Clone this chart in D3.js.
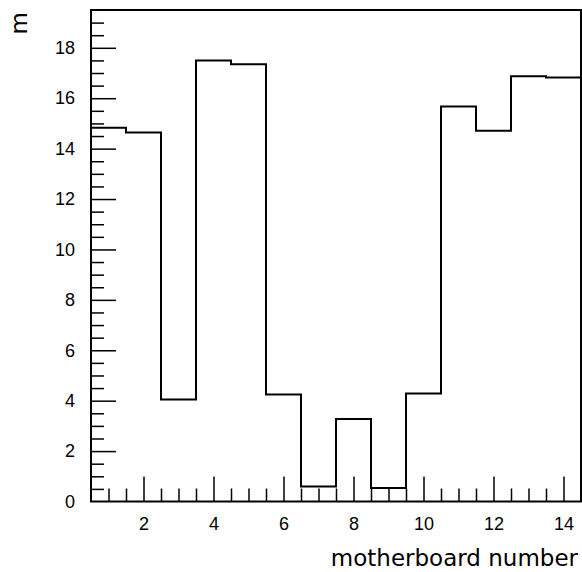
<!DOCTYPE html>
<html><head><meta charset="utf-8">
<script src="https://cdn.jsdelivr.net/npm/d3@7"></script>
<style>html,body{margin:0;padding:0;background:#fff;}svg{display:block;}</style>
</head><body>
<svg id="c" width="582" height="572"></svg>
<script>
const bins = [1,2,3,4,5,6,7,8,9,10,11,12,13,14];
const values = [14.83,14.64,4.05,17.5,17.35,4.25,0.6,3.27,0.54,4.28,15.67,14.71,16.87,16.82];
const xTickLabels = [2,4,6,8,10,12,14];
const yTickLabels = [0,2,4,6,8,10,12,14,16,18];
const xTitle = "motherboard number";
const yTitle = "m";

const svg = d3.select("#c");
const L = 91, R = 581, T = 10, B = 501.5;
const x = d3.scaleLinear().domain([0.5,14.5]).range([L,R]);
const y = d3.scaleLinear().domain([0,19.5]).range([B,T]);

// histogram step path
const pts = [[0.5,0]];
bins.forEach((b,i)=>{ pts.push([b-0.5,values[i]]); pts.push([b+0.5,values[i]]); });
pts.push([14.5,0]);
svg.append("path")
  .attr("d", d3.line().x(d=>x(d[0])).y(d=>y(d[1]))(pts))
  .attr("fill","none").attr("stroke","#000").attr("stroke-width",2);

// x ticks (inside, pointing up)
const xMinor = d3.range(1,14.01,0.5);
const gx = svg.append("g").attr("transform",`translate(0,${B})`);
gx.call(d3.axisTop(x).tickValues(xMinor).tickSize(13).tickFormat(""))
  .call(g=>g.select(".domain").remove());
gx.selectAll(".tick line").attr("stroke-width",1.5)
  .attr("y2", d=> (Math.abs(d%2)<1e-9 ? -25 : -13));
const gxl = svg.append("g").attr("transform",`translate(0,${B})`);
gxl.call(d3.axisBottom(x).tickValues(xTickLabels).tickSize(0).tickPadding(16))
  .call(g=>g.select(".domain").remove());
gxl.selectAll("text").attr("font-family","Liberation Sans, Arial, sans-serif").attr("font-size",18).attr("fill","#000");

// y ticks (inside, pointing right)
const yMinor = d3.range(0.5,19.01,0.5);
const gy = svg.append("g").attr("transform",`translate(${L},0)`);
gy.call(d3.axisRight(y).tickValues(yMinor).tickSize(13).tickFormat(""))
  .call(g=>g.select(".domain").remove());
gy.selectAll(".tick line").attr("stroke-width",1.5)
  .attr("x2", d=> (Math.abs(d%2)<1e-9 ? 25 : 13));
const gyl = svg.append("g").attr("transform",`translate(${L},0)`);
gyl.call(d3.axisLeft(y).tickValues(yTickLabels).tickSize(0).tickPadding(16))
  .call(g=>g.select(".domain").remove());
gyl.selectAll("text").attr("font-family","Liberation Sans, Arial, sans-serif").attr("font-size",18).attr("fill","#000");

// frame
svg.append("rect").attr("x",L).attr("y",T).attr("width",R-L).attr("height",B-T)
  .attr("fill","none").attr("stroke","#000").attr("stroke-width",2);

// titles
svg.append("text").attr("x",578).attr("y",566).attr("text-anchor","end")
  .attr("font-family","DejaVu Sans, sans-serif").attr("font-size",23).text(xTitle);
svg.append("text").attr("transform","translate(27,12) rotate(-90)").attr("text-anchor","end")
  .attr("font-family","DejaVu Sans, sans-serif").attr("font-size",23).text(yTitle);
</script>
</body></html>
